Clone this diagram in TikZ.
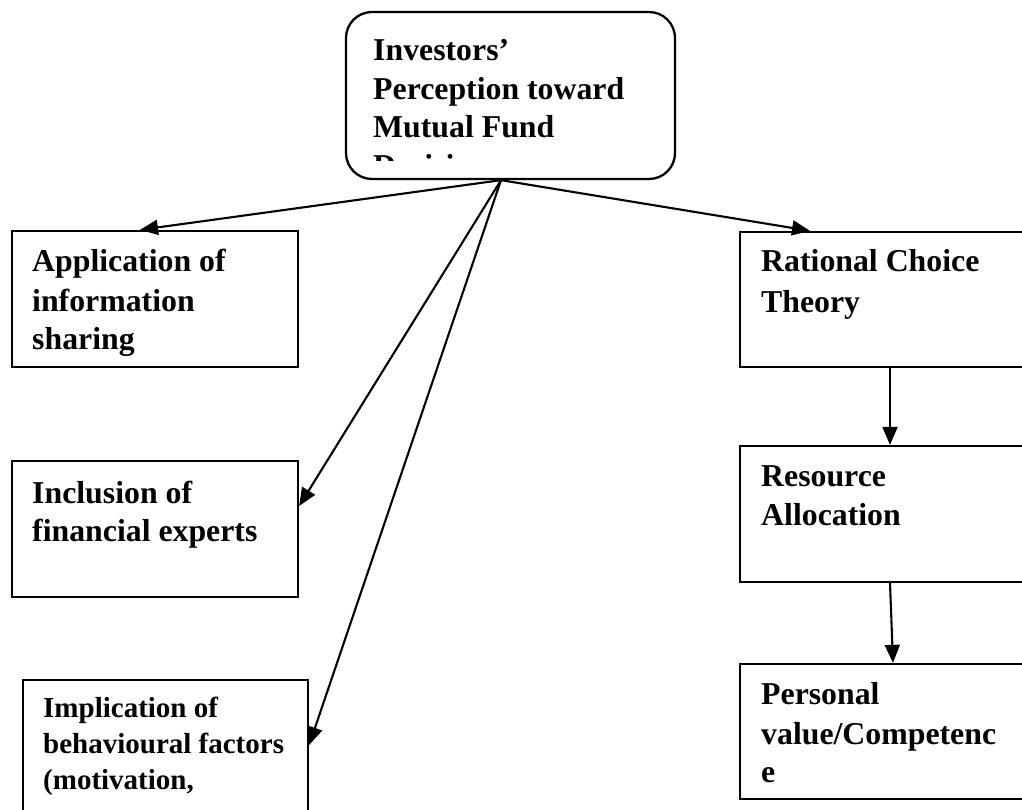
\documentclass[tikz,border=0pt]{standalone}
\usepackage{fontspec}
\setmainfont{Liberation Serif}
\usetikzlibrary{arrows.meta,fit}
\begin{document}
\begin{tikzpicture}[x=1pt,y=-1pt,
  box/.style={draw,line width=2.3pt,inner sep=0pt},
  txt/.style={anchor=base west,inner sep=0pt,font=\fontsize{31.8}{38}\selectfont\bfseries},
  stxt/.style={anchor=base west,inner sep=0pt,font=\fontsize{29}{35}\selectfont\bfseries},
  arr/.style={-{Triangle[length=18pt,width=15pt]},line width=2.1pt}]
\clip (0,0) rectangle (1022,810);
\fill[white] (0,0) rectangle (1022,810);
% boxes
\node[box,rounded corners=26pt,fit={(346,12) (675,179)}] (top) {};
\node[box,fit={(12,231) (298,367)}] (app) {};
\node[box,fit={(12,461) (298,597)}] (inc) {};
\node[box,fit={(23,680) (308,830)}] (imp) {};
\node[box,fit={(740,232) (1040,367)}] (rat) {};
\node[box,fit={(740,446) (1040,582)}] (res) {};
\node[box,fit={(740,664) (1040,799)}] (per) {};
% top text (last line clipped)
\begin{scope}
\clip (350,14) rectangle (672,161);
\node[txt] (top1) at (373,61) {Investors’};
\node[txt] (top2) at (373,100) {Perception toward};
\node[txt] (top3) at (373,138) {Mutual Fund};
\node[txt] (top4) at (373,177) {Decision};
\end{scope}
% texts
\node[txt] (app1) at (32,272) {Application of};
\node[txt] (app2) at (32,311) {information};
\node[txt] (app3) at (32,349) {sharing};
\node[txt] (inc1) at (32,503) {Inclusion of};
\node[txt] (inc2) at (32,541) {financial experts};
\node[stxt] (imp1) at (43,717) {Implication of};
\node[stxt] (imp2) at (43,753) {behavioural factors};
\node[stxt] (imp3) at (43,789) {(motivation,};
\node[txt] (rat1) at (761,272) {Rational Choice};
\node[txt] (rat2) at (761,312) {Theory};
\node[txt] (res1) at (761,486) {Resource};
\node[txt] (res2) at (761,525) {Allocation};
\node[txt] (per1) at (761,704) {Personal};
\node[txt] (per2) at (761,744) {value/Competenc};
\node[txt] (per3) at (761,782) {e};
% connectors
\coordinate (hub) at ([xshift=-9.5pt]top.south);
\draw[arr] (hub) -- ([xshift=-15pt]app.north);
\draw[arr] (hub) -- ([yshift=23pt]inc.east);
\draw[arr] (hub) -- ([yshift=10pt]imp.east);
\draw[arr] (hub) -- ([xshift=-80pt]rat.north);
\draw[arr] (rat.south) -- (res.north);
\draw[arr] (res.south) -- ([xshift=3pt]per.north);
\end{tikzpicture}
\end{document}
